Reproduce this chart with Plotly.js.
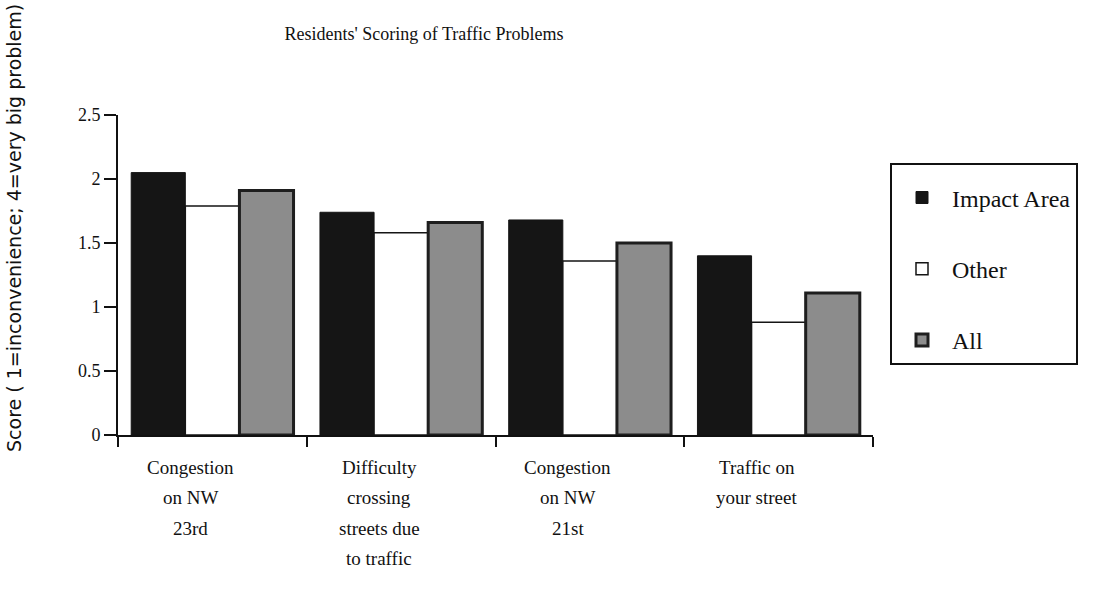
<!DOCTYPE html>
<html>
<head>
<meta charset="utf-8">
<script src="https://cdn.plot.ly/plotly-3.0.1.min.js"></script>
<style>html,body{margin:0;padding:0;background:#fff;}#chart{width:1096px;height:596px;}</style>
</head>
<body>
<div id="chart"></div>
<script>
const categories = ["Congestion<br>on NW<br>23rd", "Difficulty<br>crossing<br>streets due<br>to traffic", "Congestion<br>on NW<br>21st", "Traffic on<br>your street"];
const impactArea = [2.05, 1.74, 1.68, 1.40];
const other = [1.79, 1.58, 1.36, 0.88];
const all = [1.91, 1.66, 1.50, 1.11];
const seriesNames = ["Impact Area", "Other", "All"];
const titleText = "Residents' Scoring of Traffic Problems";
const yTitleText = "Score ( 1=inconvenience; 4=very big problem)";

const serif = "Liberation Serif, Times New Roman, serif";
const xIdx = categories.map((c, i) => i);

const traces = [
  {type: "bar", name: seriesNames[0], x: xIdx, y: impactArea, legendgroup: "a",
   marker: {color: "#151515", line: {color: "#151515", width: 1}}},
  {type: "bar", name: seriesNames[1], x: xIdx, y: other, legendgroup: "b",
   marker: {color: "#ffffff", line: {color: "#151515", width: 1.5}}},
  {type: "bar", name: seriesNames[2], x: xIdx, y: all, legendgroup: "c",
   marker: {color: "#8c8c8c", line: {color: "#1e1e1e", width: 3}}}
];

// category labels drawn as annotations, one per line, for wider line spacing
const annotations = [];
categories.forEach((c, i) => {
  c.split("<br>").forEach((line, j) => {
    annotations.push({
      xref: "x", yref: "paper", x: i, y: 0, yanchor: "middle", xshift: -22,
      yshift: -32 - 30.5 * j, text: line, showarrow: false,
      font: {family: serif, size: 19, color: "#111"}
    });
  });
});
annotations.push({
  xref: "paper", yref: "paper", x: 0, y: (435 - 228) / 320, xanchor: "center", yanchor: "middle",
  xshift: -104, text: yTitleText, textangle: -90, showarrow: false,
  font: {family: "DejaVu Sans, sans-serif", size: 19, color: "#111"}
});

const layout = {
  width: 1096, height: 596,
  margin: {l: 118, r: 223, t: 115, b: 161},
  paper_bgcolor: "#fff", plot_bgcolor: "#fff",
  title: {text: titleText, x: 424 / 1096, xref: "container", xanchor: "center",
          y: 1 - 34 / 596, yref: "container", yanchor: "middle",
          font: {family: serif, size: 18, color: "#111"}},
  barmode: "group", bargap: 0.14, bargroupgap: 0,
  xaxis: {type: "linear", range: [-0.5, 3.5], tickmode: "array", tickvals: [-0.5, 0.5, 1.5, 2.5, 3.5],
          showticklabels: false, ticks: "outside", ticklen: 10, tickwidth: 2, tickcolor: "#111",
          showline: true, linecolor: "#111", linewidth: 2, showgrid: false, zeroline: false, fixedrange: true},
  yaxis: {range: [0, 2.5], dtick: 0.5, tick0: 0, ticks: "outside", ticklen: 12, tickwidth: 2, tickcolor: "#111",
          showline: true, linecolor: "#111", linewidth: 2, showgrid: false, zeroline: false,
          tickfont: {family: serif, size: 18, color: "#111"}, fixedrange: true},
  showlegend: true,
  legend: {xref: "container", yref: "container", x: 890 / 1096, y: 1 - 163 / 596, xanchor: "left", yanchor: "top",
           bordercolor: "#111", borderwidth: 2, bgcolor: "#fff",
           traceorder: "grouped", tracegroupgap: 37, itemwidth: 50,
           title: {text: " ", font: {size: 8}},
           font: {family: serif, size: 24, color: "#111"}},
  annotations: annotations
};

Plotly.newPlot("chart", traces, layout, {displayModeBar: false, staticPlot: true});
</script>
</body>
</html>
